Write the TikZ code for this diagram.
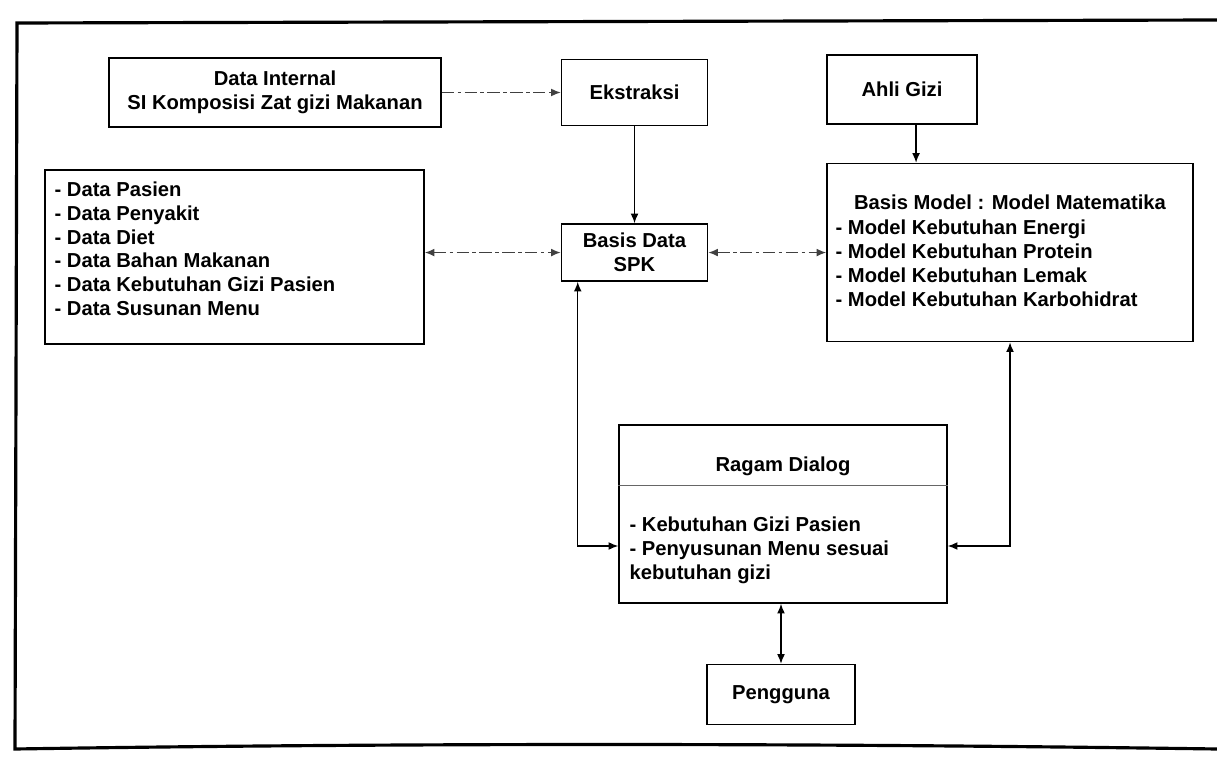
\documentclass[tikz,border=0pt]{standalone}
\usepackage{fontspec}
\setmainfont{Liberation Sans}
\usetikzlibrary{arrows.meta,positioning,calc}

\begin{document}
\begin{tikzpicture}[x=0.02cm,y=-0.02cm,>={Latex[length=5.5pt,width=4.5pt]},
    node distance=1.94cm and 2.38cm,
    every node/.style={font=\fontsize{11.5pt}{13.6pt}\selectfont\bfseries},
    block/.style={draw,line width=0.9pt,inner sep=0pt},
    itemlist/.style={anchor=north west,align=left,inner sep=0pt},
    link/.style={line width=0.8pt},
    dashlink/.style={line width=0.8pt,black!75,dash pattern=on 7pt off 2pt on 2pt off 2pt}]

\useasboundingbox (0,0) rectangle (1217,760);

% frame
\draw [line width=1.8pt] (1217,20) -- (17,23) -- (15,749)
    .. controls (400,743) and (800,743) .. (1217,749);

% top row
\node [block, minimum width=6.64cm, minimum height=1.38cm, align=center] (datainternal) at (275,92.5)
    {Data Internal\\SI Komposisi Zat gizi Makanan};
\node [block, minimum width=2.92cm, minimum height=1.32cm] (ekstraksi) [right=of datainternal] {Ekstraksi};

% middle row
\node [block, minimum width=2.92cm, minimum height=1.14cm, align=center] (basisdata) [below=of ekstraksi]
    {Basis Data\\SPK};
\node [block, minimum width=7.58cm, minimum height=3.48cm] (datalist) [left=2.72cm of basisdata, yshift=-0.09cm] {};
\node [itemlist] (datalisttext) at ($(datalist.north west)+(10,12)$)
    {- Data Pasien\\- Data Penyakit\\- Data Diet\\- Data Bahan Makanan\\- Data Kebutuhan Gizi Pasien\\- Data Susunan Menu};

\node [block, minimum width=7.32cm, minimum height=3.56cm] (basismodel) [right=2.36cm of basisdata] {};
\node [anchor=base] (basismodeltitle) at ($(basismodel.north)+(0,47)$) {Basis Model : Model Matematika};
\node [itemlist] (basismodeltext) at ($(basismodel.north west)+(9,57)$)
    {- Model Kebutuhan Energi\\- Model Kebutuhan Protein\\- Model Kebutuhan Lemak\\- Model Kebutuhan Karbohidrat};
\node [block, minimum width=3cm, minimum height=1.38cm] (ahligizi) [above=0.76cm of basismodel, xshift=-2.16cm] {Ahli Gizi};

% dialog
\node [block, minimum width=6.56cm, minimum height=3.56cm] (ragam) at (783,514) {};
\node [anchor=base] (ragamtitle) at ($(ragam.north)+(0,47)$) {Ragam Dialog};
\draw [line width=0.6pt, black!60] ($(ragam.north west)+(0,61)$) -- ($(ragam.north east)+(0,61)$);
\node [itemlist] (ragamtext) at ($(ragam.north west)+(11,92)$)
    {- Kebutuhan Gizi Pasien\\- Penyusunan Menu sesuai\\kebutuhan gizi};
\node [block, minimum width=2.96cm, minimum height=1.2cm] (pengguna) [below=1.2cm of ragam, xshift=-0.04cm] {Pengguna};

% connectors
\draw [dashlink, ->] (datainternal.east) -- (datainternal.east -| ekstraksi.west);
\draw [link, ->] (ekstraksi) -- (basisdata);
\coordinate (ahliout) at ($(ahligizi.south)+(14,0)$);
\draw [link, ->] (ahliout) -- (ahliout |- basismodel.north);
\draw [dashlink, <->] (basisdata.west -| datalist.east) -- (basisdata.west);
\draw [dashlink, <->] (basisdata.east) -- (basisdata.east -| basismodel.west);
\coordinate (spkout) at ($(basisdata.south west)+(17,0)$);
\draw [link, <->] (spkout) |- ($(ragam.west)+(0,32)$);
\draw [link, <->] (basismodel.south) |- ($(ragam.east)+(0,32)$);
\draw [link, <->] (pengguna.north |- ragam.south) -- (pengguna.north);

\end{tikzpicture}
\end{document}
